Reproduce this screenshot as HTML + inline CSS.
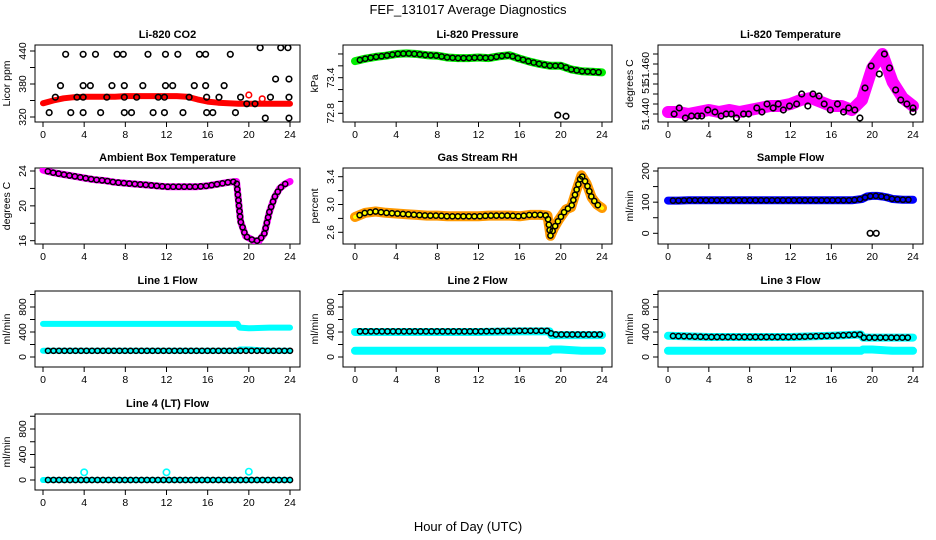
<!DOCTYPE html>
<html><head><meta charset="utf-8"><style>
html,body{margin:0;padding:0;background:#fff;}
svg{display:block;font-family:"Liberation Sans",sans-serif;}
</style></head><body>
<svg id="chart" width="936" height="540" viewBox="0 0 936 540" xmlns="http://www.w3.org/2000/svg">
<text x="468" y="14" font-size="13" text-anchor="middle">FEF_131017  Average Diagnostics</text>
<text x="468" y="531" font-size="13" text-anchor="middle">Hour of Day (UTC)</text>
</svg>
<script>
// ---- data ----
const hourly = [0,1,2,3,4,5,6,7,8,9,10,11,12,13,14,15,16,17,18,19,20,21,22,23,24];
const xTicks = [0,4,8,12,16,20,24];

const co2Red = [345,350,354,356,357,357,357,357,358,358,358,358,358,358,357,352,348,346,345,344,344,344,344,344,344];
const co2BlackH = [2.2,3.9,5.1,7.2,7.8,10.2,11.9,13.1,15.2,15.8,18.2, 1.7,3.9,4.6,6.7,7.9,9.7,11.9,12.6,14.7,15.8,17.6, 0.6,2.7,3.9,5.6,7.9,8.6,10.7,11.8,13.6,15.9,16.5,18.7, 1.2,3.3,3.9,6.2,7.9,9.1,11.2,11.8,14.2,15.9,17.1,19.2,22.1,23.9, 19.8,20.6,21.1,22.6,23.1,23.8,23.9,21.6,23.9];
const co2BlackV = [434,434,434,434,434,434,434,434,434,434,434, 377,377,377,377,377,377,377,377,377,377,377, 328,328,328,328,328,328,328,328,328,328,328,328, 356,356,356,356,356,356,356,356,356,356,356,356,356,356, 344,344,446,389,446,446,389,318,318];
const co2RedPtsH = [20,21.3];
const co2RedPtsV = [360,353];

const presV = [73.68,73.72,73.75,73.77,73.8,73.81,73.8,73.78,73.77,73.74,73.73,73.73,73.74,73.73,73.76,73.78,73.72,73.67,73.63,73.6,73.6,73.54,73.51,73.5,73.49];
const presOutH = [19.7,20.5];
const presOutV = [72.77,72.75];

const tempV = [51.441,51.441,51.440,51.441,51.442,51.441,51.442,51.441,51.442,51.443,51.444,51.444,51.445,51.447,51.448,51.446,51.444,51.444,51.442,51.447,51.463,51.470,51.456,51.448,51.444];
const tempBlackH = [0.6,1.1,1.7,2.3,2.9,3.3,3.9,4.6,5.2,5.7,6.2,6.7,7.4,7.9,8.7,9.2,9.7,10.3,10.8,11.3,11.9,12.6,13.1,13.7,14.2,14.8,15.3,15.9,16.6,17.2,17.7,18.3,18.8,19.3,19.9,20.7,21.2,21.7,22.3,22.8,23.4,24,24];
const tempBlackV = [51.440,51.443,51.438,51.439,51.439,51.439,51.442,51.441,51.439,51.440,51.440,51.438,51.440,51.440,51.443,51.441,51.445,51.443,51.445,51.442,51.444,51.445,51.450,51.444,51.450,51.449,51.445,51.442,51.445,51.441,51.443,51.442,51.438,51.453,51.464,51.460,51.470,51.463,51.452,51.447,51.445,51.443,51.441];

const ambH = [0,1,2,3,4,5,6,7,8,9,10,11,12,13,14,15,16,17,18,18.8,19.2,19.7,20.5,21,21.5,22,22.5,23,23.5,24];
const ambV = [24.1,23.8,23.6,23.4,23.2,23.0,22.9,22.7,22.6,22.5,22.4,22.3,22.2,22.2,22.2,22.2,22.3,22.5,22.7,22.8,18.2,16.5,16.0,16.0,16.8,19.3,21.0,22.0,22.5,22.8];

const rhH = [0,1,2,3,4,5,6,7,8,9,10,11,12,13,14,15,16,17,18,18.7,19,19.3,19.8,20.5,21,21.5,22,22.5,23,23.5,24];
const rhV = [2.82,2.88,2.9,2.88,2.87,2.86,2.85,2.84,2.84,2.83,2.83,2.83,2.83,2.84,2.84,2.84,2.83,2.85,2.85,2.84,2.55,2.65,2.78,2.93,2.96,3.2,3.42,3.3,3.1,3.0,2.95];

const sfH = [0,1,2,3,4,5,6,7,8,9,10,11,12,13,14,15,16,17,18,19,19.5,20,20.5,21,21.5,22,23,24];
const sfV = [105,105,106,106,106,106,106,106,106,106,106,106,106,106,106,106,106,106,106,110,118,120,120,118,115,110,108,108];
const sfOutH = [19.8,20.4];
const sfOutV = [0,0];

const flowH = [0,4,8,12,16,18.9,19.1,20,22,24];
const l1High = [530,530,530,530,530,530,470,460,470,470];
const l1Low = [100,100,100,100,100,100,120,120,100,100];
const l1Black = [100,100,100,100,100,100,100,100,100,100];
const l2High = [400,400,400,400,410,410,350,350,350,350];
const l2Low = [100,100,100,100,100,100,120,120,100,100];
const l2Black = [410,410,410,410,420,420,360,360,360,360];
const l3High = [340,320,320,320,340,360,310,310,310,310];
const l3Low = [100,100,100,100,100,100,120,120,100,100];
const l3Black = [340,320,320,320,340,360,310,310,310,310];
const l4Black = [0,0,0,0,0,0,0,0,0,0];
const l4OutH = [4,12,20];
const l4OutV = [120,120,130];

// ---- layout ----
const NS = "http://www.w3.org/2000/svg";
const svg = document.getElementById('chart');
const cols = [{L:35,R:300,x0:43,x24:290},{L:343,R:612,x0:355,x24:602},{L:658,R:923,x0:668,x24:913}];
const rows = [{T:45,B:122},{T:168,B:244},{T:291,B:367},{T:414,B:490}];

function mk(tag, attrs, parent){
  const e = document.createElementNS(NS, tag);
  for (const k in attrs) e.setAttribute(k, attrs[k]);
  (parent||svg).appendChild(e);
  return e;
}

function panel(name, title, ylab, c, r, v1, p1, v2, p2, ticks, labels){
  const C = cols[c], R = rows[r];
  const g = mk('g', {});
  
  
  const sx = h => C.x0 + (h/24)*(C.x24 - C.x0);
  const py1 = R.T + p1, py2 = R.T + p2;
  const sy = v => py1 + (v - v1)*(py2 - py1)/(v2 - v1);
  const box = mk('rect', {x:C.L, y:R.T, width:C.R-C.L, height:R.B-R.T, fill:'none', stroke:'#000', 'stroke-width':1}, g);
  
  
  const t = mk('text', {x:(C.L+C.R)/2, y:R.T-7, 'font-size':11, 'font-weight':'bold', 'text-anchor':'middle'}, g);
  t.textContent = title;
  
  
  mk('line', {x1:sx(0), x2:sx(24), y1:R.B, y2:R.B, stroke:'#000'}, g);
  xTicks.forEach(h => {
    mk('line', {x1:sx(h), x2:sx(h), y1:R.B, y2:R.B+5, stroke:'#000'}, g);
    const tl = mk('text', {x:sx(h), y:R.B+16, 'font-size':10.5, 'text-anchor':'middle'}, g);
    tl.textContent = h;
    
    
  });
  mk('line', {x1:C.L, x2:C.L, y1:sy(ticks[0]), y2:sy(ticks[ticks.length-1]), stroke:'#000'}, g);
  ticks.forEach(v => mk('line', {x1:C.L-5, x2:C.L, y1:sy(v), y2:sy(v), stroke:'#000'}, g));
  labels.forEach(l => {
    const y = sy(l[0]);
    const tl = mk('text', {x:C.L-9, y:y, 'font-size':10.5, 'text-anchor':'middle', transform:`rotate(-90 ${C.L-9} ${y})`}, g);
    tl.textContent = l[1];
    
    
  });
  const yt = mk('text', {x:C.L-25, y:(R.T+R.B)/2, 'font-size':10.5, 'text-anchor':'middle', transform:`rotate(-90 ${C.L-25} ${(R.T+R.B)/2})`}, g);
  yt.textContent = ylab;
  
  
  const clip = 'clip-' + name;
  const cp = mk('clipPath', {id:clip}, g);
  mk('rect', {x:C.L, y:R.T, width:C.R-C.L, height:R.B-R.T}, cp);
  const inner = mk('g', {'clip-path':`url(#${clip})`}, g);
  return {g:inner, sx, sy};
}

function band(P, hs, vs, color, w, nm){
  const pts = hs.map((h,i) => P.sx(h).toFixed(1)+','+P.sy(vs[i]).toFixed(1)).join(' ');
  const pl = mk('polyline', {points:pts, fill:'none', stroke:color, 'stroke-width':w, 'stroke-linejoin':'round', 'stroke-linecap':'round'}, P.g);
  
  
  return pl;
}
function circles(P, hs, vs, color, rr, nm){
  hs.forEach((h,i) => {
    const c = mk('circle', {cx:P.sx(h), cy:P.sy(vs[i]), r:rr, fill:'none', stroke:color, 'stroke-width':1.6}, P.g);
    
    
  });
}
// chain of open circles placed along the drawn series path (every ~5.5px)
function chain(P, hs, vs, nm, start){
  const pts = hs.map((h,i) => P.sx(h).toFixed(1)+','+P.sy(vs[i]).toFixed(1)).join(' ');
  const pl = mk('polyline', {points:pts, fill:'none', stroke:'none'}, P.g);
  const len = pl.getTotalLength();
  for (let s = (start||5); s <= len; s += 5.5) {
    const p = pl.getPointAtLength(s);
    const c = mk('circle', {cx:p.x, cy:p.y, r:2.6, fill:'none', stroke:'#000', 'stroke-width':1.5}, P.g);
    
    
  }
}

// CO2
let P = panel('co2','Li-820 CO2','Licor ppm',0,0,320,72,440,6,[320,350,380,410,440],[[320,'320'],[380,'380'],[440,'440']]);
band(P, hourly, co2Red, '#f00', 6, 'co2-red-series');
circles(P, co2RedPtsH, co2RedPtsV, '#f00', 2.8, 'co2-red-point');
circles(P, co2BlackH, co2BlackV, '#000', 2.8, 'co2-black-point');

// Pressure
P = panel('pressure','Li-820 Pressure','kPa',1,0,72.8,68.3,73.4,32.7,[72.8,73.0,73.2,73.4,73.6,73.8],[[72.8,'72.8'],[73.4,'73.4']]);
band(P, hourly, presV, '#0e0', 8, 'pressure-green-series');
chain(P, hourly, presV, 'pressure-black-point');
circles(P, presOutH, presOutV, '#000', 2.8, 'pressure-outlier');

// Temperature
P = panel('li820-temp','Li-820 Temperature','degrees C',2,0,51.44,69,51.46,29,[51.440,51.445,51.450,51.455,51.460,51.465,51.470],[[51.440,'51.440'],[51.4537,'51.'],[51.463,'51.460']]);
band(P, hourly, tempV, '#f0f', 12, 'temp-magenta-series');
circles(P, tempBlackH, tempBlackV, '#000', 2.8, 'temp-black-point');

// Ambient
P = panel('ambient','Ambient Box Temperature','degrees C',0,1,24,3,16,72.7,[16,18,20,22,24],[[16,'16'],[20,'20'],[24,'24']]);
band(P, ambH, ambV, '#f0f', 7, 'ambient-magenta-series');
chain(P, ambH, ambV, 'ambient-black-point');

// RH
P = panel('rh','Gas Stream RH','percent',1,1,3.4,8.7,2.6,64.3,[2.6,2.8,3.0,3.2,3.4],[[2.6,'2.6'],[3.0,'3.0'],[3.4,'3.4']]);
band(P, rhH, rhV, '#f90', 10, 'rh-orange-series');
band(P, rhH, rhV, '#ff0', 4, 'rh-yellow-series');
chain(P, rhH, rhV, 'rh-black-point');

// Sample flow
P = panel('sample-flow','Sample Flow','ml/min',2,1,0,65.3,200,3,[0,50,100,150,200],[[0,'0'],[100,'100'],[200,'200']]);
band(P, sfH, sfV, '#00f', 8, 'sample-flow-blue-series');
chain(P, sfH, sfV, 'sample-flow-black-point');
circles(P, sfOutH, sfOutV, '#000', 2.8, 'sample-flow-outlier');

const fTicks = [0,200,400,600,800,1000];
const fLabels = [[0,'0'],[400,'400'],[800,'800']];
// Line 1
P = panel('line1','Line 1 Flow','ml/min',0,2,0,66,800,16,fTicks,fLabels);
band(P, flowH, l1High, '#0ff', 6, 'line1-high-series');
band(P, flowH, l1Low, '#0ff', 6, 'line1-low-series');
chain(P, flowH, l1Black, 'line1-black-point');
// Line 2
P = panel('line2','Line 2 Flow','ml/min',1,2,0,66,800,16,fTicks,fLabels);
band(P, flowH, l2High, '#0ff', 8, 'line2-high-series');
band(P, flowH, l2Low, '#0ff', 8, 'line2-low-series');
chain(P, flowH, l2Black, 'line2-black-point');
// Line 3
P = panel('line3','Line 3 Flow','ml/min',2,2,0,66,800,16,fTicks,fLabels);
band(P, flowH, l3High, '#0ff', 8, 'line3-high-series');
band(P, flowH, l3Low, '#0ff', 8, 'line3-low-series');
chain(P, flowH, l3Black, 'line3-black-point');
// Line 4
P = panel('line4','Line 4 (LT) Flow','ml/min',0,3,0,66,800,15,fTicks,fLabels);
band(P, flowH, l4Black, '#0ff', 6, 'line4-cyan-series');
chain(P, flowH, l4Black, 'line4-black-point');
circles(P, l4OutH, l4OutV, '#0ff', 3.2, 'line4-outlier');
</script>
</body></html>
